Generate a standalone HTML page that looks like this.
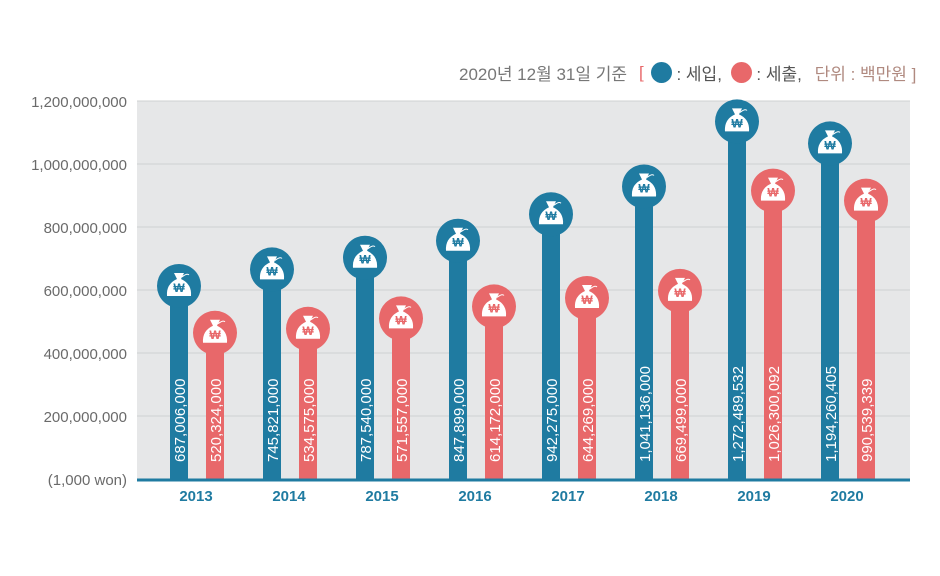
<!DOCTYPE html>
<html><head><meta charset="utf-8"><style>
body{margin:0;background:#fff;width:940px;height:571px;overflow:hidden}
svg text{font-family:"Liberation Sans","Noto Sans CJK KR",sans-serif}
</style></head><body>
<svg id="c" width="940" height="571"></svg>
<script>
const years=["2013","2014","2015","2016","2017","2018","2019","2020"];
const revenue=[687006000,745821000,787540000,847899000,942275000,1041136000,1272489532,1194260405];
const expenditure=[520324000,534575000,571557000,614172000,644269000,669499000,1026300092,990539339];
const ticks=[0,200000000,400000000,600000000,800000000,1000000000,1200000000];
const tickLabels=["(1,000 won)","200,000,000","400,000,000","600,000,000","800,000,000","1,000,000,000","1,200,000,000"];
const NS="http://www.w3.org/2000/svg";
const svg=document.getElementById('c');
const X0=137,X1=910,Y0=479,YT=101;
const yAxis=v=>Y0-v/1200000000*(Y0-YT);
const yBar=v=>Y0-v/1e6*0.281;
const xCat=i=>196+i*93;
function el(t,a,p){const e=document.createElementNS(NS,t);for(const k in a)e.setAttribute(k,a[k]);(p||svg).appendChild(e);return e;}
const bg=el('rect',{x:X0,y:YT,width:X1-X0,height:Y0-YT,fill:'#e6e7e8'});


ticks.forEach((t,i)=>{
  const y=yAxis(t);
  if(i>0){const g=el('line',{x1:X0,x2:X1,y1:y,y2:y,stroke:'#cfd0d2','stroke-width':1});
  
  }
  const tx=el('text',{x:127,y:y+6,'text-anchor':'end','font-size':15,fill:'#6a6a6a'});
  tx.textContent=tickLabels[i];
  
  
});
function bag(cx,cy,col,g){
  el('circle',{cx:cx,cy:cy,r:22,fill:col},g);
  el('path',{d:`M${cx-5} ${cy-13} L${cx+5} ${cy-13} L${cx+2} ${cy-7} Q${cx+13} ${cy-2} ${cx+12} ${cy+10} L${cx-12} ${cy+10} Q${cx-13} ${cy-2} ${cx-2} ${cy-7} Z`,fill:'#fff'},g);
  el('path',{d:`M${cx+3} ${cy-9} q5 -4 7 -2`,stroke:'#fff','stroke-width':1,fill:'none'},g);
  const w=el('text',{x:cx,y:cy+6,'text-anchor':'middle','font-size':12,'font-weight':'bold',fill:col},g);w.textContent='₩';
}
function bar(cx,v,col,name){
  const g=el('g',{});
  
  
  const top=yBar(v);
  el('rect',{x:cx-9,y:top,width:18,height:Y0-top,fill:col},g);
  bag(cx,top,col,g);
  const t=el('text',{transform:`translate(${cx+6},462) rotate(-90)`,'font-size':15,fill:'#fff'},g);
  t.textContent=v.toLocaleString('en-US');
}
years.forEach((yr,i)=>{
  const c=xCat(i);
  bar(c-17,revenue[i],'#1f7ba1','revenue-bar-'+yr);
  bar(c+19,expenditure[i],'#e8686a','expenditure-bar-'+yr);
  const l=el('text',{x:c,y:501,'text-anchor':'middle','font-size':15,'font-weight':'bold',fill:'#1f7ba1'});
  l.textContent=yr;
  
  
});
const ax=el('line',{x1:X0,x2:X1,y1:Y0+1,y2:Y0+1,stroke:'#1f7ba1','stroke-width':3});


</script>
<div style="position:absolute;left:459px;top:60px;font:17px 'Liberation Sans','Noto Sans CJK KR',sans-serif;color:#777;white-space:nowrap;display:flex;align-items:center">
<span>2020년 12월 31일 기준</span><span style="color:#e8686a;margin:0 7px 0 12px">[</span>
<span style="display:inline-block;width:21px;height:21px;border-radius:50%;background:#1f7ba1"></span><span style="color:#555">&nbsp;: 세입,&nbsp;</span>
<span style="display:inline-block;width:21px;height:21px;border-radius:50%;background:#e8686a;margin-left:4px"></span><span style="color:#555">&nbsp;: 세출,&nbsp;</span>
<span style="color:#b08a80;margin-left:8px">단위 : 백만원 ]</span></div>
</body></html>
